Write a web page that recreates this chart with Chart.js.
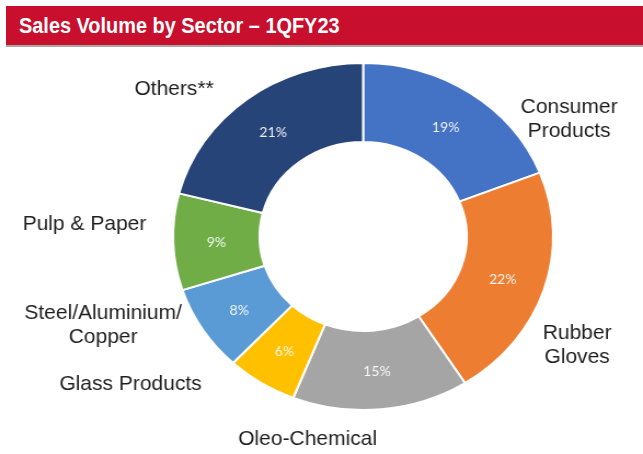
<!DOCTYPE html>
<html>
<head>
<meta charset="utf-8">
<script src="https://cdn.jsdelivr.net/npm/chart.js@4.4.0/dist/chart.umd.min.js"></script>
<style>
  html, body { margin: 0; padding: 0; background: #ffffff; }
  body { width: 643px; height: 454px; position: relative; overflow: hidden; }
  #titlebar {
    position: absolute; left: 6px; top: 6px; width: 637px; height: 39px;
    background: #C8102E; border-bottom: 2px solid #a8a8a8;
    box-sizing: content-box;
  }
  #titlebar span {
    position: absolute; left: 13px; top: 7px;
    font-family: "Liberation Sans", Arial, sans-serif; font-weight: bold;
    font-size: 22px; color: #ffffff; white-space: nowrap;
    transform-origin: 0 0; transform: scaleX(0.905);
  }
  #wrap {
    position: absolute; left: 0; top: 0; width: 587px; height: 454px;
    transform-origin: 0 0; transform: scaleX(1.0954);
  }
</style>
</head>
<body>
<div id="wrap"><canvas id="c"></canvas></div>
<div id="titlebar"><span>Sales Volume by Sector – 1QFY23</span></div>
<script>
// ---- data ----
const categories = ["Consumer Products", "Rubber Gloves", "Oleo-Chemical", "Glass Products", "Steel/Aluminium/Copper", "Pulp & Paper", "Others**"];
const labelLines = [["Consumer", "Products"], ["Rubber", "Gloves"], ["Oleo-Chemical"], ["Glass Products"], ["Steel/Aluminium/", "Copper"], ["Pulp & Paper"], ["Others**"]];
const shares = [19, 22, 15, 6, 8, 9, 21];
const colors = ["#4472C4", "#ED7D31", "#A5A5A5", "#FFC000", "#5B9BD5", "#70AD47", "#264478"];

// ---- layout (label anchors relative to ring center, in units of outer radius) ----
const STRETCH = 643 / 587;
const labelAnchors = [[1.084, -0.677], [1.126, 0.625], [-0.292, 1.167], [-1.224, 0.850], [-1.368, 0.513], [-1.466, -0.072], [-0.995, -0.850]];

const labelPlugin = {
  id: 'sectorLabels',
  afterDatasetsDraw(chart) {
    const ctx = chart.ctx;
    const meta = chart.getDatasetMeta(0);
    meta.data.forEach((arc, i) => {
      // percentage inside
      const p = arc.getCenterPoint();
      ctx.save();
      ctx.translate(p.x, p.y + 2);
      ctx.scale(1 / STRETCH, 1);
      ctx.font = '14px Lato, "Open Sans", sans-serif';
      ctx.fillStyle = 'rgba(255,255,255,0.92)';
      ctx.textAlign = 'center';
      ctx.textBaseline = 'middle';
      ctx.fillText(shares[i] + '%', 0, 0);
      ctx.restore();

      // category outside
      const R = arc.outerRadius;
      const ax = arc.x + labelAnchors[i][0] * R;
      const ay = arc.y + labelAnchors[i][1] * R;
      const lines = labelLines[i];
      const lh = 24;
      ctx.save();
      ctx.translate(ax, ay);
      ctx.scale(1 / STRETCH, 1);
      ctx.font = '21px "Liberation Sans", Arial, sans-serif';
      ctx.fillStyle = '#1e1e1e';
      ctx.textAlign = 'center';
      ctx.textBaseline = 'middle';
      lines.forEach((t, k) => {
        ctx.fillText(t, 0, (k - (lines.length - 1) / 2) * lh);
      });
      ctx.restore();
    });
  }
};

new Chart(document.getElementById('c'), {
  type: 'doughnut',
  data: {
    labels: categories,
    datasets: [{
      data: shares,
      backgroundColor: colors,
      borderColor: '#ffffff',
      borderWidth: 2
    }]
  },
  options: {
    responsive: true,
    maintainAspectRatio: false,
    animation: false,
    cutout: '54.5%',
    layout: { padding: { left: 157, right: 81, top: 62, bottom: 43 } },
    plugins: { legend: { display: false }, tooltip: { enabled: false }, title: { display: false } }
  },
  plugins: [labelPlugin]
});
</script>
</body>
</html>
